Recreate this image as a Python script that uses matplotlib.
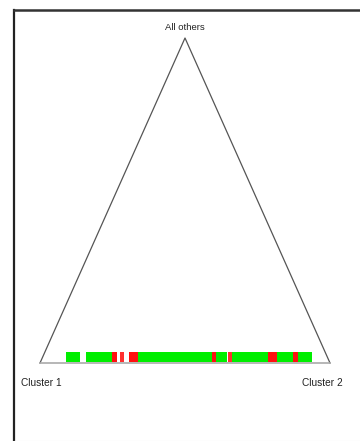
import matplotlib
matplotlib.use("Agg")
import matplotlib.pyplot as plt
from matplotlib.lines import Line2D

# triangle corners (fraction along base, fraction of height)
corner_names = ["Cluster 1", "Cluster 2", "All others"]
corner_x = [0.0, 1.0, 0.5]
corner_y = [0.0, 0.0, 1.0]

# samples laid along the Cluster 1 - Cluster 2 edge: start, width, colour
seg_start = [0.090, 0.159, 0.248, 0.276, 0.307, 0.338, 0.593, 0.607, 0.648, 0.662, 0.786, 0.817, 0.872, 0.890]
seg_width = [0.048, 0.090, 0.017, 0.014, 0.031, 0.255, 0.014, 0.038, 0.014, 0.124, 0.031, 0.055, 0.017, 0.048]
seg_color = ["#00ee00", "#00ee00", "#ff1010", "#ff3030", "#ff1010", "#00ee00", "#ff1010",
             "#00ee00", "#ff3030", "#00ee00", "#ff1010", "#00ee00", "#ff1010", "#00ee00"]
band_y = 0.003
band_h = 0.031

plt.rcParams['font.family'] = ['Liberation Sans Narrow', 'Liberation Sans', 'DejaVu Sans']

fig = plt.figure(figsize=(3.6, 4.41), dpi=100)
W, H = 360, 441
ax = fig.add_axes([40 / W, (H - 363) / H, 290 / W, 325 / H])
ax.set_xlim(0, 1)
ax.set_ylim(0, 1)
ax.axis("off")

# triangle outline
ax.plot([corner_x[0], corner_x[2], corner_x[1]], [corner_y[0], corner_y[2], corner_y[1]],
        color="#555555", lw=0.9, clip_on=False)
ax.plot([corner_x[0], corner_x[1]], [corner_y[0], corner_y[1]], color="#aaaaaa", lw=1.2, clip_on=False)

for s, w, c in zip(seg_start, seg_width, seg_color):
    ax.broken_barh([(s, w)], (band_y, band_h), facecolors=c, edgecolor="none", clip_on=False)

ax.text(corner_x[0] + 0.003, corner_y[0] - 0.045, corner_names[0], ha="center", va="top",
        fontsize=7.3, color="#222222")
ax.text(corner_x[1] - 0.028, corner_y[1] - 0.045, corner_names[1], ha="center", va="top",
        fontsize=7.3, color="#222222")
ax.text(corner_x[2], corner_y[2] + 0.018, corner_names[2], ha="center", va="bottom",
        fontsize=6.8, color="#222222")

# frame of the original screenshot
fig.add_artist(Line2D([14 / W, 14 / W], [0, (H - 10) / H], color="#222222", lw=1.6))
fig.add_artist(Line2D([14 / W, 1], [(H - 10) / H, (H - 10) / H], color="#333333", lw=1.8))
fig.add_artist(Line2D([14 / W, 1], [0.5 / H, 0.5 / H], color="#dddddd", lw=0.8))

fig.savefig("out.png", dpi=100)
